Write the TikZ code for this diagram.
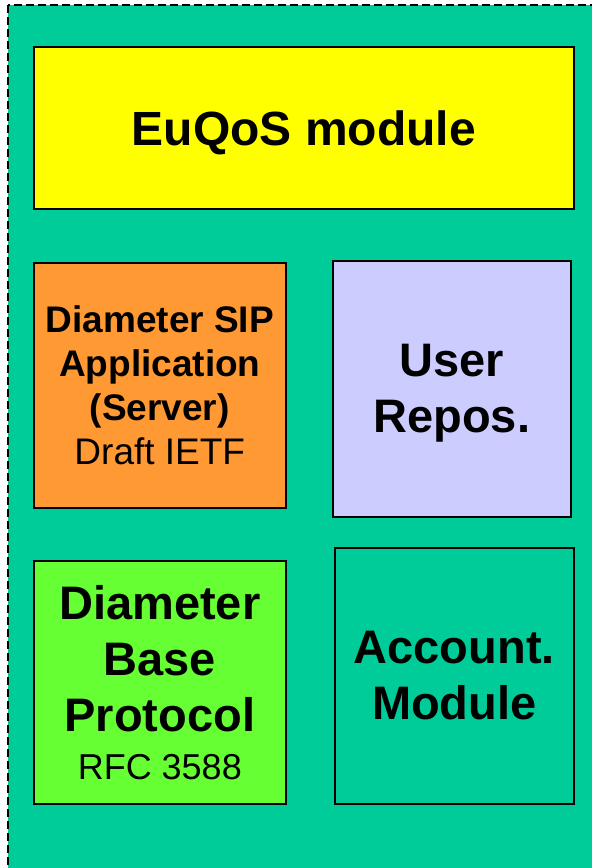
\documentclass[tikz,border=0pt]{standalone}
\usepackage{fontspec}
\setmainfont{Liberation Sans}
\usepackage{xcolor}
\definecolor{bggreen}{RGB}{0,204,153}
\definecolor{euyellow}{RGB}{255,255,0}
\definecolor{siporange}{RGB}{255,153,51}
\definecolor{replilac}{RGB}{204,204,255}
\definecolor{baselime}{RGB}{102,255,51}

\tikzset{
    block/.style={draw=black, line width=1.6pt, anchor=north west, inner sep=0pt, align=center},
    bigtext/.style={font=\bfseries\fontsize{47}{56}\selectfont},
    midtext/.style={font=\bfseries\fontsize{37}{44}\selectfont}
}

\begin{document}
\begin{tikzpicture}[x=1pt,y=-1pt]
        \useasboundingbox (0,0) rectangle (592,868);
        \clip (0,0) rectangle (592,868);
        \fill [white] (0,0) rectangle (592,868);
        \draw [black, fill=bggreen, line width=2pt, dash pattern=on 8pt off 4pt] (8,5) rectangle (620,900);

        \node [block, fill=euyellow, minimum width=540pt, minimum height=162pt, text depth=0pt, font=\bfseries\fontsize{48}{56}\selectfont] (euqos) at (33,46) {EuQoS module};

        \node [block, midtext, fill=siporange, minimum width=252pt, minimum height=245pt] (sipapp) at (33,262)
            {Diameter SIP\\Application\\(Server)\\{\mdseries Draft IETF}};
        \node [block, bigtext, fill=replilac, minimum width=238pt, minimum height=256pt, text depth=0pt] (userrepo) at (332,260)
            {User\\Repos.};

        \node [block, bigtext, fill=baselime, minimum width=252pt, minimum height=243pt] (baseproto) at (33,560)
            {Diameter\\Base\\Protocol\\[-8pt]{\fontsize{36}{44}\selectfont\mdseries RFC 3588}};
        \node [block, bigtext, fill=bggreen, minimum width=239pt, minimum height=256pt] (account) at (334,547)
            {Account.\\Module};
\end{tikzpicture}
\end{document}
